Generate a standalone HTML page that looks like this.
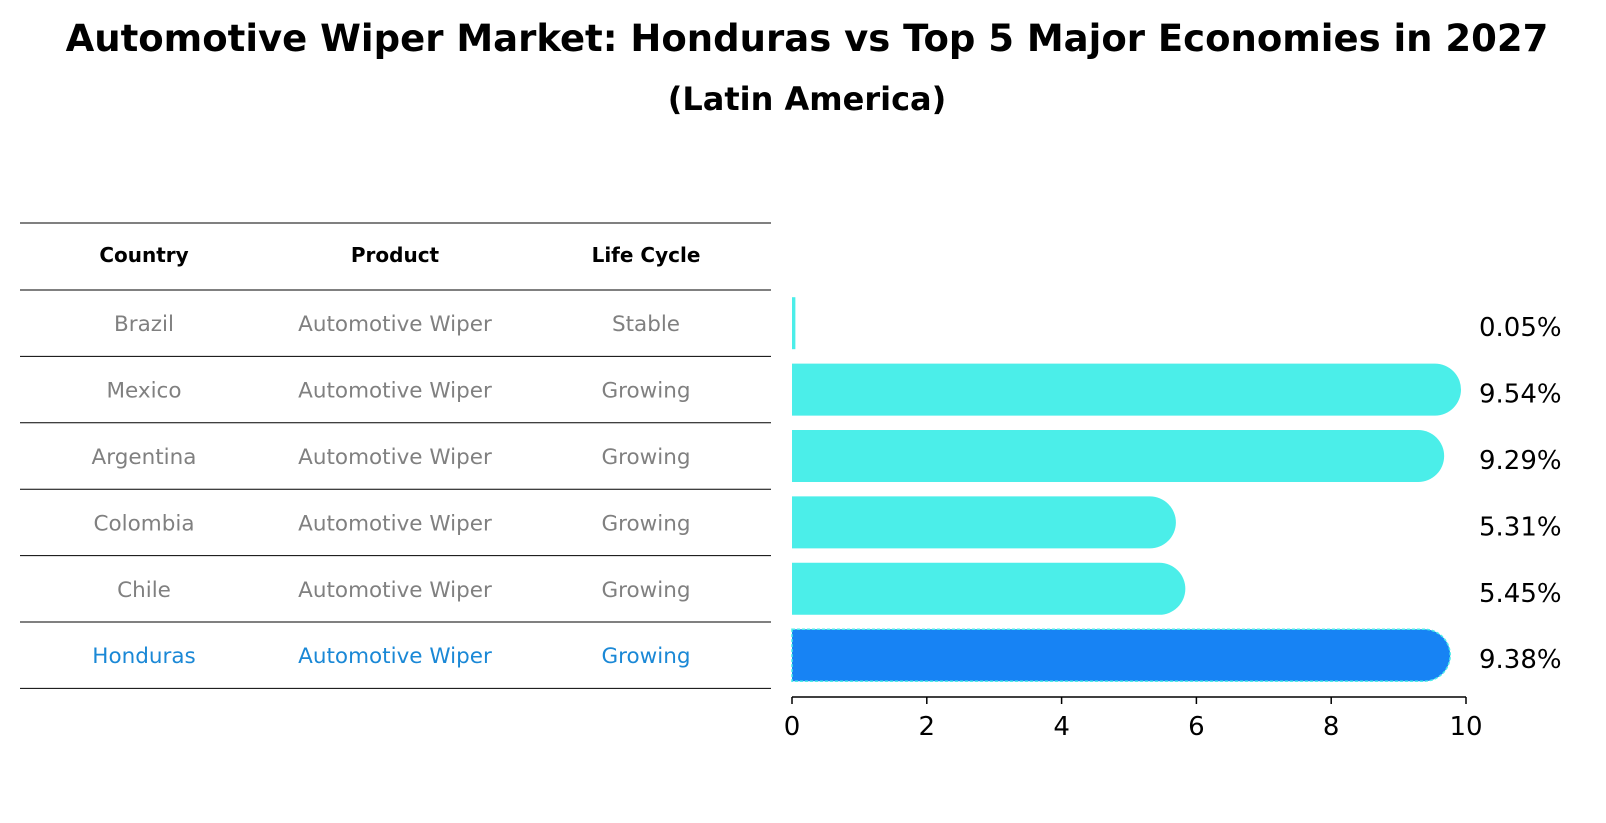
<!DOCTYPE html>
<html><head><meta charset="utf-8">
<style>
body{margin:0;background:#fff;font-family:"Liberation Sans","DejaVu Sans",sans-serif;}
svg{display:block}
</style></head>
<body>
<svg id="chart" width="1606" height="823" viewBox="0 0 1606 823">
<text x="807" y="51" text-anchor="middle" font-size="37" font-weight="bold" font-family="DejaVu Sans, Liberation Sans, sans-serif">Automotive Wiper Market: Honduras vs Top 5 Major Economies in 2027</text>
<text x="807" y="110" text-anchor="middle" font-size="32" font-weight="bold" font-family="DejaVu Sans, Liberation Sans, sans-serif">(Latin America)</text>
<g id="table"></g>
<g id="bars"></g>
<g id="axis"></g>
</svg>
<script>
const countries=["Brazil","Mexico","Argentina","Colombia","Chile","Honduras"];
const products=["Automotive Wiper","Automotive Wiper","Automotive Wiper","Automotive Wiper","Automotive Wiper","Automotive Wiper"];
const lifecycle=["Stable","Growing","Growing","Growing","Growing","Growing"];
const values=[0.05,9.54,9.29,5.31,5.45,9.38];
const ticks=[0,2,4,6,8,10];
const NS="http://www.w3.org/2000/svg";
function mk(tag,attrs,parent,text){const e=document.createElementNS(NS,tag);for(const k in attrs)e.setAttribute(k,attrs[k]);if(text!==undefined)e.textContent=text;parent.appendChild(e);return e;}
const X0=792,X1=1466,xs=v=>X0+(X1-X0)*v/10;
const rowTop=290,rowH=66.4,barH=52;
const ys=i=>rowTop+rowH*i+rowH/2;
const FF="DejaVu Sans, Liberation Sans, sans-serif";
const tb=document.getElementById('table');
const colX=[144,395,646];
let l=mk('line',{x1:20,x2:771,y1:223,y2:223,stroke:'#000','stroke-width':1},tb);

["Country","Product","Life Cycle"].forEach((h,j)=>{
 const t=mk('text',{x:colX[j],y:262,'text-anchor':'middle','font-size':20,'font-weight':'bold','font-family':FF},tb,h);
 
});
countries.forEach((c,i)=>{
 const yb=rowTop+rowH*i;
 const ln=mk('line',{x1:20,x2:771,y1:yb,y2:yb,stroke:'#000','stroke-width':1},tb);
 
 const col=c==="Honduras"?'#1a88d6':'#808080';
 [c,products[i],lifecycle[i]].forEach((v,j)=>{
  const t=mk('text',{x:colX[j],y:ys(i)+8,'text-anchor':'middle','font-size':21.5,fill:col,'font-family':FF},tb,v);
  
 });
});
const lb=mk('line',{x1:20,x2:771,y1:rowTop+rowH*6,y2:rowTop+rowH*6,stroke:'#000','stroke-width':1},tb);

const bg=document.getElementById('bars');
values.forEach((v,i)=>{
 const y0=ys(i)-barH/2, r=barH/2;
 const w=xs(v)-X0;
 let p;
 if(w<10){p=mk('rect',{x:X0,y:y0,width:Math.max(w,3),height:barH,fill:'#4beee9'},bg);}
 else{
  const xe=xs(v);
  const d=`M${X0},${y0} H${xe} A${r},${r} 0 0 1 ${xe},${y0+barH} H${X0} Z`;
  const hon=countries[i]==="Honduras";
  p=mk('path',{d:d,fill:hon?'#1783f4':'#4beee9',stroke:hon?'#4beee9':'none','stroke-width':hon?1.5:0,'stroke-dasharray':hon?'3,2':''},bg);
 }
 
 
 const t=mk('text',{x:1479,y:ys(i)+13,'font-size':26,'font-family':FF},bg,v.toFixed(2)+'%');
 
});
const ax=document.getElementById('axis');
const al=mk('line',{x1:X0,x2:X1,y1:697,y2:697,stroke:'#000','stroke-width':1.5},ax);

ticks.forEach(t=>{
 const tk=mk('line',{x1:xs(t),x2:xs(t),y1:697,y2:704,stroke:'#000','stroke-width':1.5},ax);
 
 const tx=mk('text',{x:xs(t),y:735,'text-anchor':'middle','font-size':26,'font-family':FF},ax,String(t));
 
});
</script>
</body></html>
